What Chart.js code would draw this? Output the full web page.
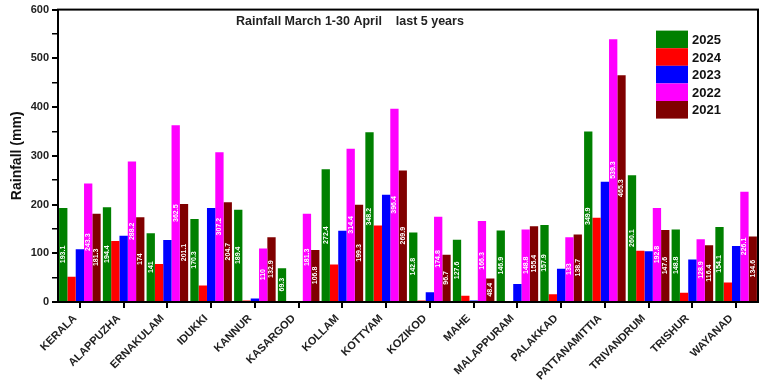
<!DOCTYPE html>
<html>
<head>
<meta charset="utf-8">
<script src="https://cdn.jsdelivr.net/npm/chart.js@4.4.1/dist/chart.umd.min.js"></script>
<style>
  html, body { margin: 0; padding: 0; background: #fff; }
  #wrap { width: 768px; height: 390px; }
</style>
</head>
<body>
<div id="wrap"><canvas id="rainChart"></canvas></div>
<script>
var districts = ['KERALA', 'ALAPPUZHA', 'ERNAKULAM', 'IDUKKI', 'KANNUR', 'KASARGOD', 'KOLLAM', 'KOTTYAM',
    'KOZIKOD', 'MAHE', 'MALAPPURAM', 'PALAKKAD', 'PATTANAMITTIA', 'TRIVANDRUM', 'TRISHUR', 'WAYANAD'];
var years = ['2025', '2024', '2023', '2022', '2021'];
var rain2025 = [193.1, 194.4, 141, 170.3, 189.4, 69.3, 272.4, 348.2, 142.8, 127.6, 146.9, 157.9, 349.9, 260.1, 148.8, 154.1];
var rain2024 = [52, 125, 78, 34, 3, 2, 77, 157, 3, 13, 2, 16, 173, 105, 19, 40];
var rain2023 = [108, 136, 127, 193, 7, 1, 146, 220, 20, 3, 37, 68, 247, 104, 87, 115];
var rain2022 = [243.3, 288.2, 362.5, 307.2, 110, 181.3, 314.4, 396.4, 174.8, 166.3, 148.8, 133, 539.3, 192.8, 128.9, 226.1];
var rain2021 = [181.3, 174, 201.1, 204.7, 132.9, 106.8, 199.3, 269.9, 96.7, 48.4, 155.4, 138.7, 465.3, 147.6, 116.4, 134.6];
var yearColors = ['#008000', '#ff0000', '#0000ff', '#ff00ff', '#800000'];
var labelledYears = [0, 3, 4]; // bars that carry a value label

var FONT = '"Liberation Sans", Arial, sans-serif';

// white value text inside bars, frame, title and legend
var decorations = {
    id: 'decorations',
    afterDatasetsDraw: function(chart) {
        var ctx = chart.ctx;
        ctx.save();
        ctx.fillStyle = '#fff';
        ctx.font = 'bold 7px ' + FONT;
        ctx.textAlign = 'center';
        ctx.textBaseline = 'middle';
        labelledYears.forEach(function(di) {
            var meta = chart.getDatasetMeta(di);
            var data = chart.data.datasets[di].data;
            meta.data.forEach(function(bar, i) {
                var midY = (bar.y + bar.base) / 2;
                ctx.save();
                ctx.translate(bar.x, midY);
                ctx.rotate(-Math.PI / 2);
                ctx.fillText(String(data[i]), 0, 0);
                ctx.restore();
            });
        });
        ctx.restore();
    },
    afterDraw: function(chart) {
        var ctx = chart.ctx, a = chart.chartArea;
        ctx.save();
        ctx.strokeStyle = '#000';
        ctx.lineWidth = 2;
        ctx.strokeRect(a.left, a.top, a.right - a.left, a.bottom - a.top);

        ctx.fillStyle = '#222';
        ctx.font = 'bold 12.5px ' + FONT;
        ctx.textBaseline = 'middle';
        ctx.textAlign = 'left';
        ctx.fillText('Rainfall March 1-30 April    last 5 years', a.left + 178, a.top + 12);

        // legend
        var x0 = a.right - 102, y0 = a.top + 21, h = 17.6;
        ctx.font = 'bold 13px ' + FONT;
        chart.data.datasets.forEach(function(ds, i) {
            ctx.fillStyle = ds.backgroundColor;
            ctx.fillRect(x0, y0 + i * h, 32, h);
            ctx.fillStyle = '#111';
            ctx.fillText(ds.label, x0 + 36, y0 + i * h + h / 2 + 1);
        });
        ctx.restore();
    }
};

var rainChart = new Chart(document.getElementById('rainChart').getContext('2d'), {
    type: 'bar',
    data: {
        labels: districts,
        datasets: [rain2025, rain2024, rain2023, rain2022, rain2021].map(function(vals, i) {
            return {
                label: years[i],
                data: vals,
                backgroundColor: yearColors[i],
                borderWidth: 0,
                categoryPercentage: 0.95,
                barPercentage: 1.0
            };
        })
    },
    options: {
        responsive: true,
        maintainAspectRatio: false,
        animation: false,
        layout: { padding: { top: 7, right: 10, left: 0, bottom: 0 } },
        plugins: {
            legend: { display: false },
            tooltip: { enabled: false }
        },
        scales: {
            x: {
                afterFit: function(s) { s.height = 88; },
                border: { color: '#000', width: 2 },
                grid: { offset: false, drawOnChartArea: false, tickLength: 6, color: '#000', lineWidth: 2 },
                ticks: {
                    autoSkip: false,
                    minRotation: 45,
                    maxRotation: 45,
                    padding: 4,
                    labelOffset: -5,
                    color: '#222',
                    font: { family: FONT, size: 11, weight: 'bold' }
                }
            },
            y: {
                min: 0,
                max: 600,
                afterFit: function(s) { s.width = 58; },
                border: { color: '#000', width: 2 },
                grid: {
                    drawOnChartArea: false,
                    tickLength: 6,
                    color: '#000',
                    lineWidth: function(c) { return c.tick && c.tick.value % 100 === 0 ? 2 : 1.5; }
                },
                ticks: {
                    stepSize: 50,
                    padding: 3,
                    color: '#222',
                    font: { family: FONT, size: 11, weight: 'bold' },
                    callback: function(v) { return v % 100 === 0 ? v : ''; }
                },
                title: {
                    display: true,
                    text: 'Rainfall (mm)',
                    color: '#111',
                    padding: { top: 9, bottom: 0 },
                    font: { family: FONT, size: 14, weight: 'bold' }
                }
            }
        }
    },
    plugins: [decorations]
});
</script>
</body>
</html>
